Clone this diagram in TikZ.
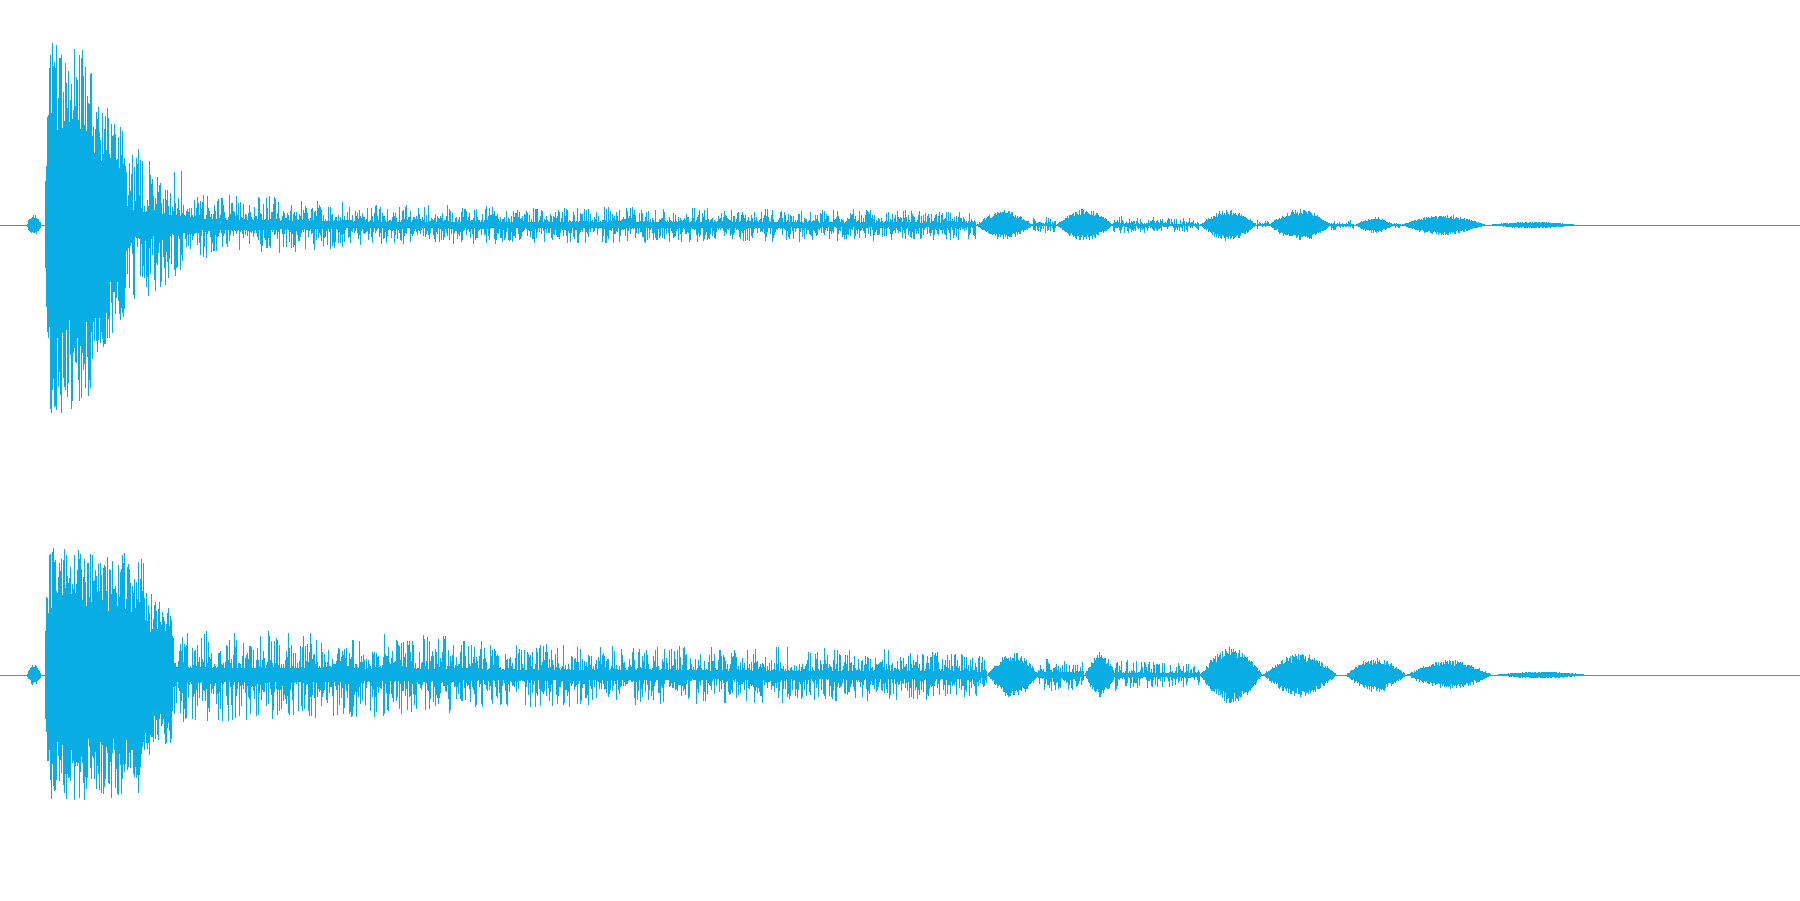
\documentclass[tikz,border=0pt]{standalone}
\definecolor{wv}{RGB}{8,173,228}
\tikzset{wl/.style={wv,line width=0.8pt}}
\newcommand{\wseg}[5]{% ybase x0 x1 a0 a1
  \foreach \x in {#2,#2.8,...,#3}{%
    \pgfmathsetmacro{\am}{#4+(#5-#4)*(\x-#2)/(#3-#2)}%
    \pgfmathsetmacro{\ra}{rnd}%
    \pgfmathsetmacro{\ru}{\am*(0.15+0.85*\ra*\ra)}%
    \pgfmathsetmacro{\ra}{rnd}%
    \pgfmathsetmacro{\rd}{\am*(0.15+0.85*\ra*\ra)}%
    \draw[wl] (\x,#1-\ru) -- (\x,#1+\rd);}}
\newcommand{\wsegd}[5]{% dense variant
  \foreach \x in {#2,#2.6,...,#3}{%
    \pgfmathsetmacro{\am}{#4+(#5-#4)*(\x-#2)/(#3-#2)}%
    \pgfmathsetmacro{\ru}{\am*(0.5+0.5*rnd)}%
    \pgfmathsetmacro{\rd}{\am*(0.5+0.5*rnd)}%
    \draw[wl] (\x,#1-\ru) -- (\x,#1+\rd);}}
\newcommand{\wblob}[4]{% ybase x0 x1 amp
  \foreach \x in {#2,#2.7,...,#3}{%
    \pgfmathsetmacro{\am}{#4*sin(180*(\x-#2)/(#3-#2))}%
    \pgfmathsetmacro{\ru}{\am*(0.6+0.4*rnd)}%
    \pgfmathsetmacro{\rd}{\am*(0.6+0.4*rnd)}%
    \draw[wl] (\x,#1-\ru) -- (\x,#1+\rd);}}
\begin{document}
\begin{tikzpicture}[x=1pt,y=-1pt]
\pgfmathsetseed{7}
\fill[white] (0,0) rectangle (1568,784);
\useasboundingbox (0,0) rectangle (1568,784);
\draw[wv,line width=0.6pt] (0,196) -- (1568,196);
\draw[wv,line width=0.6pt] (0,588) -- (1568,588);
% top channel
\wblob{196}{23}{36}{10}
\wsegd{196}{40}{43}{60}{150}
\wsegd{196}{43}{80}{166}{160}
\wsegd{196}{80}{110}{120}{80}
\wseg{196}{110}{175}{75}{40}
\wseg{196}{175}{300}{30}{20}
\wseg{196}{300}{850}{18}{13}
\wblob{196}{850}{900}{13}
\wseg{196}{900}{920}{7}{7}
\wblob{196}{920}{970}{14}
\wseg{196}{970}{1045}{8}{6}
\wblob{196}{1045}{1095}{14}
\wseg{196}{1095}{1105}{4}{4}
\wblob{196}{1105}{1160}{14}
\wseg{196}{1160}{1180}{5}{5}
\wblob{196}{1180}{1215}{7}
\wseg{196}{1215}{1220}{3}{3}
\wblob{196}{1220}{1295}{9}
\wblob{196}{1295}{1375}{3}
% bottom channel
\wblob{588}{23}{36}{10}
\wsegd{588}{40}{43}{60}{110}
\wsegd{588}{43}{125}{112}{105}
\wsegd{588}{125}{150}{75}{60}
\wseg{588}{150}{400}{42}{34}
\wseg{588}{400}{800}{30}{22}
\wseg{588}{800}{860}{24}{18}
\wblob{588}{860}{905}{20}
\wseg{588}{905}{945}{16}{12}
\wblob{588}{945}{972}{20}
\wseg{588}{972}{1045}{14}{10}
\wblob{588}{1045}{1100}{25}
\wblob{588}{1100}{1165}{19}
\wblob{588}{1172}{1225}{15}
\wblob{588}{1225}{1300}{13}
\wblob{588}{1300}{1385}{3}
\end{tikzpicture}
\end{document}
